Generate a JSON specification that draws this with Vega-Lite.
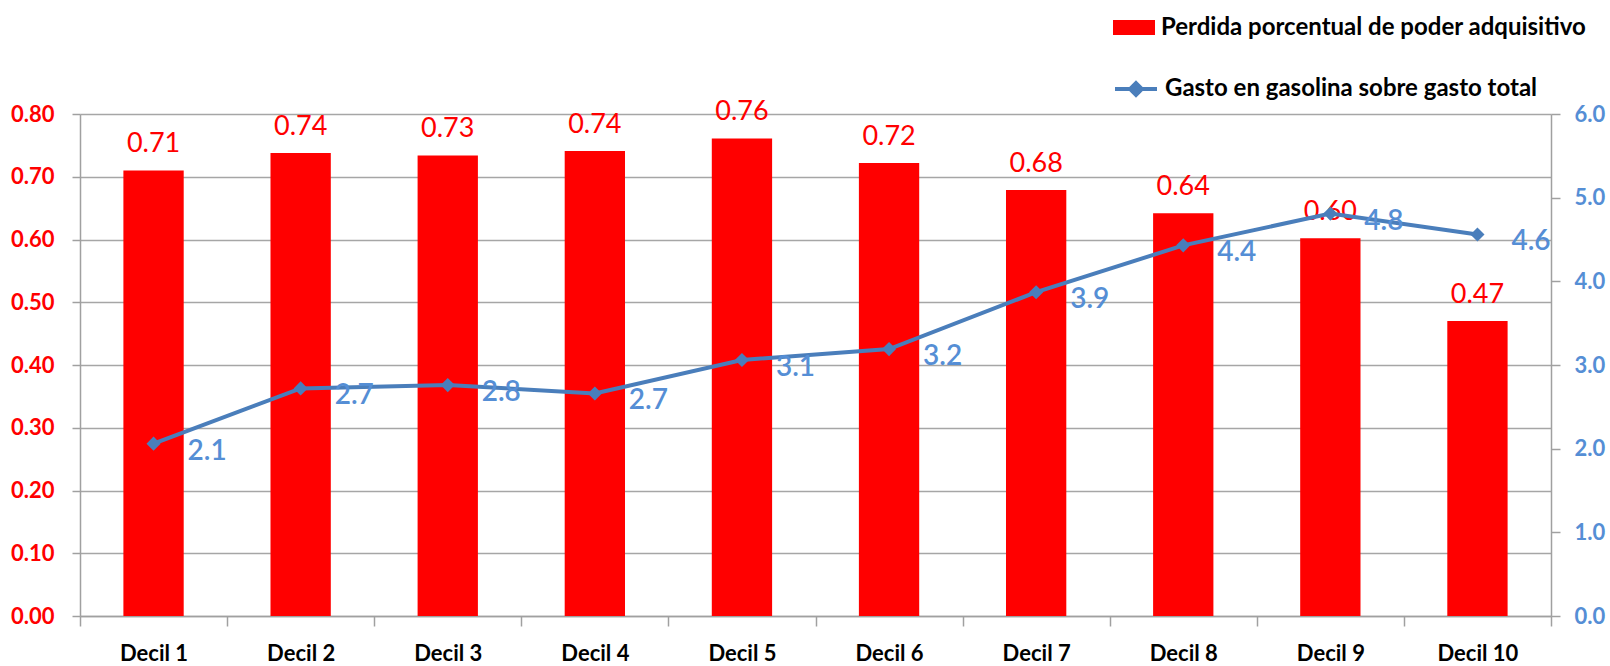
{
  "$schema": "https://vega.github.io/schema/vega-lite/v6.json",
  "width": 1471,
  "height": 502,
  "autosize": {"type": "none"},
  "padding": {"left": 80, "top": 114, "right": 59, "bottom": 50},
  "background": "white",
  "config": {"view": {"stroke": null}, "font": "Lato"},
  "data": {
    "values": [
      {"decil": "Decil 1", "perdida": 0.710, "gasto": 2.06},
      {"decil": "Decil 2", "perdida": 0.738, "gasto": 2.72},
      {"decil": "Decil 3", "perdida": 0.734, "gasto": 2.76},
      {"decil": "Decil 4", "perdida": 0.741, "gasto": 2.66},
      {"decil": "Decil 5", "perdida": 0.761, "gasto": 3.06},
      {"decil": "Decil 6", "perdida": 0.722, "gasto": 3.19},
      {"decil": "Decil 7", "perdida": 0.679, "gasto": 3.87},
      {"decil": "Decil 8", "perdida": 0.642, "gasto": 4.43},
      {"decil": "Decil 9", "perdida": 0.602, "gasto": 4.81},
      {"decil": "Decil 10", "perdida": 0.470, "gasto": 4.56}
    ]
  },
  "encoding": {
    "x": {
      "field": "decil",
      "type": "nominal",
      "sort": null,
      "scale": {"paddingInner": 0, "paddingOuter": 0},
      "axis": {
        "title": null,
        "labelAngle": 0,
        "tickBand": "extent",
        "tickSize": 10,
        "tickColor": "#A0A0A0",
        "tickWidth": 1.5,
        "domainColor": "#A0A0A0",
        "domainWidth": 1.5,
        "labelFont": "Lato",
        "labelFontSize": 22,
        "labelFontWeight": "bold",
        "labelColor": "black",
        "labelPadding": 17,
        "grid": false
      }
    }
  },
  "layer": [
    {
      "encoding": {
        "y": {
          "field": "perdida",
          "type": "quantitative",
          "scale": {"domain": [0, 0.8], "nice": false},
          "axis": {
            "title": null,
            "values": [0, 0.1, 0.2, 0.3, 0.4, 0.5, 0.6, 0.7, 0.8],
            "format": ".2f",
            "labelColor": "#FF0000",
            "labelFont": "Lato",
            "labelFontSize": 22,
            "labelFontWeight": "bold",
            "tickSize": 8,
            "tickColor": "#A0A0A0",
            "tickWidth": 1.5,
            "domainColor": "#A0A0A0",
            "domainWidth": 1.5,
            "labelPadding": 18,
            "grid": true,
            "gridColor": "#A6A6A6",
            "gridWidth": 1.5
          }
        }
      },
      "layer": [
        {
          "mark": {"type": "bar", "width": {"band": 0.41}},
          "encoding": {
            "color": {
              "datum": "Perdida porcentual de poder adquisitivo",
              "type": "nominal",
              "scale": {"range": ["#FF0000"]},
              "legend": {
                "orient": "none",
                "legendX": 1033,
                "legendY": -107.5,
                "title": null,
                "padding": 0,
                "symbolType": "M-1,-0.357H1V0.357H-1Z",
                "symbolSize": 1764,
                "symbolStrokeWidth": 0,
                "labelFont": "Lato",
                "labelFontSize": 24,
                "labelFontWeight": "bold",
                "labelColor": "black",
                "labelOffset": 6,
                "labelLimit": 700
              }
            }
          }
        },
        {
          "mark": {"type": "text", "color": "#FF0000", "font": "Lato", "fontSize": 27, "dy": -18, "baseline": "alphabetic"},
          "encoding": {"text": {"field": "perdida", "type": "quantitative", "format": ".2f"}}
        }
      ]
    },
    {
      "encoding": {
        "y": {
          "field": "gasto",
          "type": "quantitative",
          "scale": {"domain": [0, 6], "nice": false},
          "axis": {
            "orient": "right",
            "title": null,
            "values": [0, 1, 2, 3, 4, 5, 6],
            "format": ".1f",
            "labelColor": "#558ED5",
            "labelFont": "Lato",
            "labelFontSize": 22,
            "labelFontWeight": "bold",
            "tickSize": 9,
            "tickColor": "#A0A0A0",
            "tickWidth": 1.5,
            "domainColor": "#A0A0A0",
            "domainWidth": 1.5,
            "labelPadding": 14,
            "grid": false
          }
        }
      },
      "layer": [
        {
          "mark": {"type": "line", "strokeWidth": 4},
          "encoding": {
            "stroke": {
              "datum": "Gasto en gasolina sobre gasto total",
              "type": "nominal",
              "scale": {"range": ["#4A7EBB"]},
              "legend": {
                "orient": "none",
                "legendX": 1033,
                "legendY": -48,
                "title": null,
                "padding": 0,
                "symbolType": "M-1,0H1M0,-0.28L0.28,0L0,0.28L-0.28,0Z",
                "symbolSize": 1764,
                "symbolStrokeWidth": 4,
                "symbolFillColor": "#4A7EBB",
                "labelFont": "Lato",
                "labelFontSize": 24,
                "labelFontWeight": "bold",
                "labelColor": "black",
                "labelOffset": 6,
                "labelLimit": 700,
                "encode": {"symbols": {"update": {"fill": {"value": "#4A7EBB"}}}}
              }
            }
          }
        },
        {
          "mark": {"type": "point", "shape": "diamond", "filled": true, "size": 200, "color": "#4A7EBB", "opacity": 1}
        },
        {
          "mark": {"type": "text", "color": "#558ED5", "font": "Lato", "fontSize": 28, "fontWeight": 600, "align": "left", "baseline": "middle", "dx": 34, "dy": 8},
          "encoding": {"text": {"field": "gasto", "type": "quantitative", "format": ".1f"}}
        }
      ]
    }
  ],
  "resolve": {"scale": {"y": "independent"}}
}
